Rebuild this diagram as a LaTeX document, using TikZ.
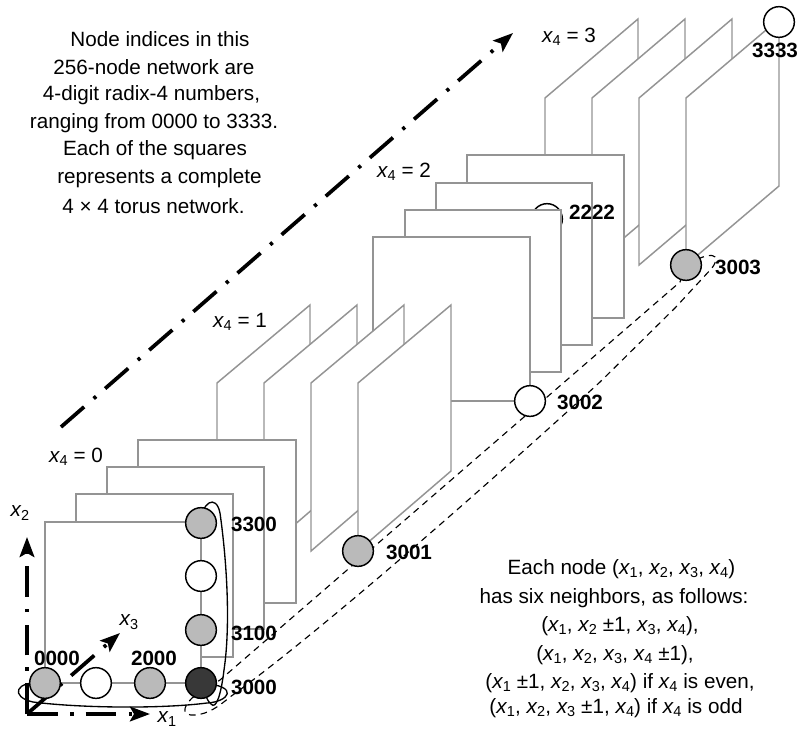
\documentclass[tikz,border=0pt]{standalone}
\usepackage{fontspec}
\setmainfont{Liberation Sans}
\usetikzlibrary{arrows.meta}
\newcommand{\xvar}[1]{\textit{x}\kern-0.35pt\relax\textsubscript{#1}\kern-0.35pt\relax}
\tikzset{
  plane/.style={draw=black!42,fill=white,line width=1.1pt},
  site/.style={circle,draw=black,line width=1.1pt,minimum size=23pt,inner sep=0pt},
  wrap/.style={black,line width=1pt},
  fence/.style={black,line width=0.85pt,dash pattern=on 5pt off 3.8pt},
  axis/.style={black,line width=2.8pt,dash pattern=on 23pt off 9.5pt on 2.4pt off 9pt,-{Stealth[length=15pt,width=11pt,inset=3pt]}},
  idx/.style={font=\bfseries\fontsize{15.5}{18}\selectfont,inner sep=0pt},
  note/.style={font=\fontsize{15.5}{18}\selectfont,inner sep=0pt},
  lab/.style={font=\fontsize{15.5}{18}\selectfont,inner sep=0pt}
}
\begin{document}
\begin{tikzpicture}[x=0.75pt,y=-0.75pt]
  \useasboundingbox (0,0) rectangle (798,728);
  \coordinate (P0000) at (45,683);
  \coordinate (P1000) at (96,683);
  \coordinate (P2000) at (150,683);
  \coordinate (P3000) at (201,683);
  \coordinate (P3100) at (201,630);
  \coordinate (P3200) at (201,576);
  \coordinate (P3300) at (201,523);
  \coordinate (P3001) at (358,551);
  \coordinate (P3002) at (530,401);
  \coordinate (P3003) at (686,265);
  \coordinate (P3333) at (779,22);
  \coordinate (O) at (27,714);
  \coordinate (X1) at (150,714);
  \coordinate (X2) at (27,537);
  \coordinate (X3) at (120,633);
  \coordinate (F1) at (61,427);
  \coordinate (F2) at (513,33);

  % x4 = 3
  \foreach \x in {545,592,639,686}{
    \draw[plane] (\x,98) -- ++(93,-79) -- ++(0,167) -- ++(-93,79) -- cycle;
  }
  % x4 = 2
  \draw[plane] (467,155) rectangle (624,318);
  \draw[plane] (436,183) rectangle (592,345);
  \node[site,fill=white] (P2222) at (547,219) {};
  \draw[plane] (405,210) rectangle (561,372);
  \draw[plane] (373,237) rectangle (530,401);
  % x4 = 1
  \foreach \x in {217,264,311,358}{
    \draw[plane] (\x,383) -- ++(93,-78) -- ++(0,166) -- ++(-93,80) -- cycle;
  }
  % x4 = 0
  \draw[plane] (138,440) rectangle (296,603);
  \draw[plane] (107,467) rectangle (264,629);
  \draw[plane] (76,494) rectangle (233,657);
  \draw[plane] (45,522) rectangle (201,683);

  \draw[wrap] (P0000) .. controls (14,680) and (10,697) .. (33,702) .. controls (80,708) and (160,709) .. (207,703) .. controls (228,702) and (242,686) .. (P3000);
  \draw[wrap] (P3300) .. controls (201,503) and (216,493) .. (220,513) .. controls (228,570) and (230,630) .. (224,670) .. controls (221,695) and (216,710) .. (211,704) .. controls (208,702) and (205,695) .. (P3000);
  \draw[fence] (P3003) -- (680,282) -- (220,680) -- (192,698) .. controls (182,708) and (182,716) .. (195,715) .. controls (208,714) and (218,707) .. (230,697) .. controls (330,625) and (520,455) .. (600,382) -- (675,308) -- (712,268) .. controls (722,254) and (712,250) .. (P3003);

  \draw[axis] (F1) -- (F2);
  \draw[axis] (O) -- (X1);
  \draw[axis] (O) -- (X2);
  \draw[axis] (O) -- (X3);

  \foreach \s/\c in {P0000/black!27,P1000/white,P2000/black!27,P3000/black!78,P3100/black!27,P3200/white,P3300/black!27,P3001/black!27,P3002/white,P3003/black!27,P3333/white}{
    \node[site,fill=\c] (n\s) at (\s) {};
  }

  \node[idx] (l0000) at (57,658) {0000};
  \node[idx] (l2000) at (154,658) {2000};
  \node[idx] (l3000) at (254,687) {3000};
  \node[idx] (l3100) at (254,633) {3100};
  \node[idx] (l3300) at (254,524) {3300};
  \node[idx] (l3001) at (409,552) {3001};
  \node[idx] (l3002) at (580,402) {3002};
  \node[idx] (l3003) at (738,267) {3003};
  \node[idx] (l2222) at (592,212) {2222};
  \node[idx] (l3333) at (775,50) {3333};

  \node[lab] (t0) at (76,457) {\xvar{4} = 0};
  \node[lab] (t1) at (240,322) {\xvar{4} = 1};
  \node[lab] (t2) at (404,172) {\xvar{4} = 2};
  \node[lab] (t3) at (569,37) {\xvar{4} = 3};
  \node[lab] (a1) at (167,719) {\xvar{1}};
  \node[lab] (a2) at (20,513) {\xvar{2}};
  \node[lab] (a3) at (129,622) {\xvar{3}};

  \node[note] (n1) at (160,39) {Node indices in this};
  \node[note] (n2) at (154,67) {256-node network are};
  \node[note] (n3) at (151.5,95) {4-digit radix-4 numbers,};
  \node[note] (n4) at (154,123) {ranging from 0000 to 3333.};
  \node[note] (n5) at (155,150) {Each of the squares};
  \node[note] (n6) at (159.5,178) {represents a complete};
  \node[note] (n7) at (153.5,206) {4 × 4 torus network.};

  \node[note] (r1) at (621.5,569) {Each node (\xvar{1}, \xvar{2}, \xvar{3}, \xvar{4})};
  \node[note] (r2) at (614,598) {has six neighbors, as follows:};
  \node[note] (r3) at (620,626) {(\xvar{1}, \xvar{2} ±1, \xvar{3}, \xvar{4}),};
  \node[note] (r4) at (615,655) {(\xvar{1}, \xvar{2}, \xvar{3}, \xvar{4} ±1),};
  \node[note] (r5) at (620,683) {(\xvar{1} ±1, \xvar{2}, \xvar{3}, \xvar{4}) if \xvar{4} is even,};
  \node[note] (r6) at (616,708) {(\xvar{1}, \xvar{2}, \xvar{3} ±1, \xvar{4}) if \xvar{4} is odd};
\end{tikzpicture}
\end{document}
